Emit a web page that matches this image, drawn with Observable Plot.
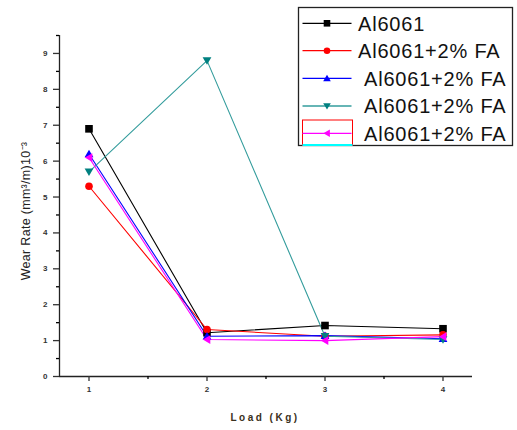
<!DOCTYPE html>
<html>
<head>
<meta charset="utf-8">
<script src="https://cdn.jsdelivr.net/npm/d3@7"></script>
<script src="https://cdn.jsdelivr.net/npm/@observablehq/plot@0.6"></script>
<style>
  html, body { margin: 0; padding: 0; background: #fff; }
  #chart { position: relative; width: 517px; height: 430px; }
</style>
</head>
<body>
<div id="chart"></div>
<script>
const loads = [1, 2, 3, 4];
const seriesNames = ["Al6061", "Al6061+2% FA", "Al6061+2% FA", "Al6061+2% FA", "Al6061+2% FA"];
const s0 = [6.9, 1.22, 1.42, 1.33];
const s1 = [5.3, 1.31, 1.12, 1.16];
const s2 = [6.2, 1.12, 1.14, 1.05];
const s3 = [5.7, 8.8, 1.12, 1.03];
const s4 = [6.1, 1.03, 1.0, 1.11];
const xTicks = [1, 2, 3, 4];
const yTicks = [0, 1, 2, 3, 4, 5, 6, 7, 8, 9];

const lineColors = ["#000000", "#ff0000", "#0000ff", "#339c9c", "#ff00ff"];
const markColors = ["#000000", "#ff0000", "#0000ff", "#008080", "#ff00ff"];

const triDown = {draw(ctx, size) { const r = Math.sqrt(size / 3); ctx.moveTo(-r, -r * 0.75); ctx.lineTo(r, -r * 0.75); ctx.lineTo(0, r * 0.95); ctx.closePath(); }};
const triLeft = {draw(ctx, size) { const r = Math.sqrt(size / 3); ctx.moveTo(-r * 0.95, 0); ctx.lineTo(r * 0.75, -r); ctx.lineTo(r * 0.75, r); ctx.closePath(); }};
const triUp = {draw(ctx, size) { const r = Math.sqrt(size / 3); ctx.moveTo(-r, r * 0.75); ctx.lineTo(r, r * 0.75); ctx.lineTo(0, -r * 0.95); ctx.closePath(); }};
const symbols = ["square", "circle", triUp, triDown, triLeft];
const radii = [4.3, 3.8, 4.3, 4.3, 4.3];

const allSeries = [s0, s1, s2, s3, s4];
const data = allSeries.map((vals, i) => loads.map((x, j) => ({x, y: vals[j], s: i})));

const marks = [
  Plot.ruleY([0], {stroke: "#222", strokeWidth: 1.3}),
  Plot.ruleX([0.75], {stroke: "#222", strokeWidth: 1.3}),
  Plot.axisX({ticks: xTicks, tickSize: 5, tickPadding: 5, tickFormat: d => String(d), fontSize: 8, fontWeight: "bold", color: "#333", label: null, strokeWidth: 1.3}),
  Plot.axisX({ticks: [1.5, 2.5, 3.5], tickSize: 3, tickFormat: () => "", label: null, strokeWidth: 1.3}),
  Plot.axisY({ticks: yTicks, tickSize: 6, tickPadding: 6, tickFormat: d => String(d), fontSize: 8, fontWeight: "bold", color: "#333", label: null, strokeWidth: 1.3}),
  Plot.axisY({ticks: yTicks.map(d => d + 0.5), tickSize: 3, tickFormat: () => "", label: null, strokeWidth: 1.3})
];
data.forEach((d, i) => {
  marks.push(Plot.line(d, {x: "x", y: "y", stroke: lineColors[i], strokeWidth: 1.1}));
});
data.forEach((d, i) => {
  marks.push(Plot.dot(d, {x: "x", y: "y", fill: markColors[i], stroke: "none", symbol: symbols[i], r: radii[i]}));
});

const plot = Plot.plot({
  width: 517,
  height: 430,
  marginLeft: 59,
  marginRight: 45,
  marginTop: 35,
  marginBottom: 54,
  style: {fontFamily: "Liberation Sans, Arial, sans-serif", background: "#fff"},
  x: {domain: [0.75, 4.25]},
  y: {domain: [0, 9.5]},
  marks
});
document.getElementById("chart").appendChild(plot);

const svg = d3.select(plot);
// axis titles
svg.append("text")
  .attr("x", 265).attr("y", 421)
  .attr("text-anchor", "middle")
  .attr("font-family", "Liberation Sans, Arial, sans-serif")
  .attr("font-size", 10).attr("font-weight", "bold")
  .attr("letter-spacing", 2.5)
  .attr("fill", "#3a3020")
  .text("Load (Kg)");
svg.append("text")
  .attr("transform", "translate(30,211) rotate(-90)")
  .attr("text-anchor", "middle")
  .attr("font-family", "Liberation Sans, Arial, sans-serif")
  .attr("font-size", 12.5)
  .attr("letter-spacing", 0.3)
  .attr("fill", "#222")
  .text("Wear Rate (mm³/m)10⁻³");

// legend
const lg = svg.append("g");
lg.append("rect").attr("x", 298.5).attr("y", 7.5).attr("width", 214).attr("height", 138)
  .attr("fill", "#fff").attr("stroke", "#222").attr("stroke-width", 1.3);
const rowY = [23.3, 50.7, 78.3, 106, 133.3];
const textX = [358, 358, 364, 364, 364];
lg.append("rect").attr("x", 302.5).attr("y", 120).attr("width", 50).attr("height", 25.5)
  .attr("fill", "none").attr("stroke", "#ff0000").attr("stroke-width", 1);
lg.append("line").attr("x1", 302.5).attr("x2", 352.5).attr("y1", 145).attr("y2", 145)
  .attr("stroke", "#00ffff").attr("stroke-width", 2);
seriesNames.forEach((name, i) => {
  lg.append("line").attr("x1", 302.5).attr("x2", 351.5).attr("y1", rowY[i]).attr("y2", rowY[i])
    .attr("stroke", lineColors[i]).attr("stroke-width", 1.3);
  const sym = typeof symbols[i] === "string"
    ? (symbols[i] === "square" ? d3.symbolSquare : d3.symbolCircle)
    : symbols[i];
  lg.append("path").attr("d", d3.symbol(sym, Math.PI * radii[i] * radii[i] * 0.75)())
    .attr("transform", `translate(327,${rowY[i]})`)
    .attr("fill", markColors[i]);
  lg.append("text").attr("x", textX[i]).attr("y", rowY[i]).attr("dy", "0.36em")
    .attr("text-anchor", "start")
    .attr("font-family", "Liberation Sans, Arial, sans-serif")
    .attr("font-size", 20).attr("letter-spacing", 0.8)
    .attr("fill", "#111")
    .text(name);
});
</script>
</body>
</html>
